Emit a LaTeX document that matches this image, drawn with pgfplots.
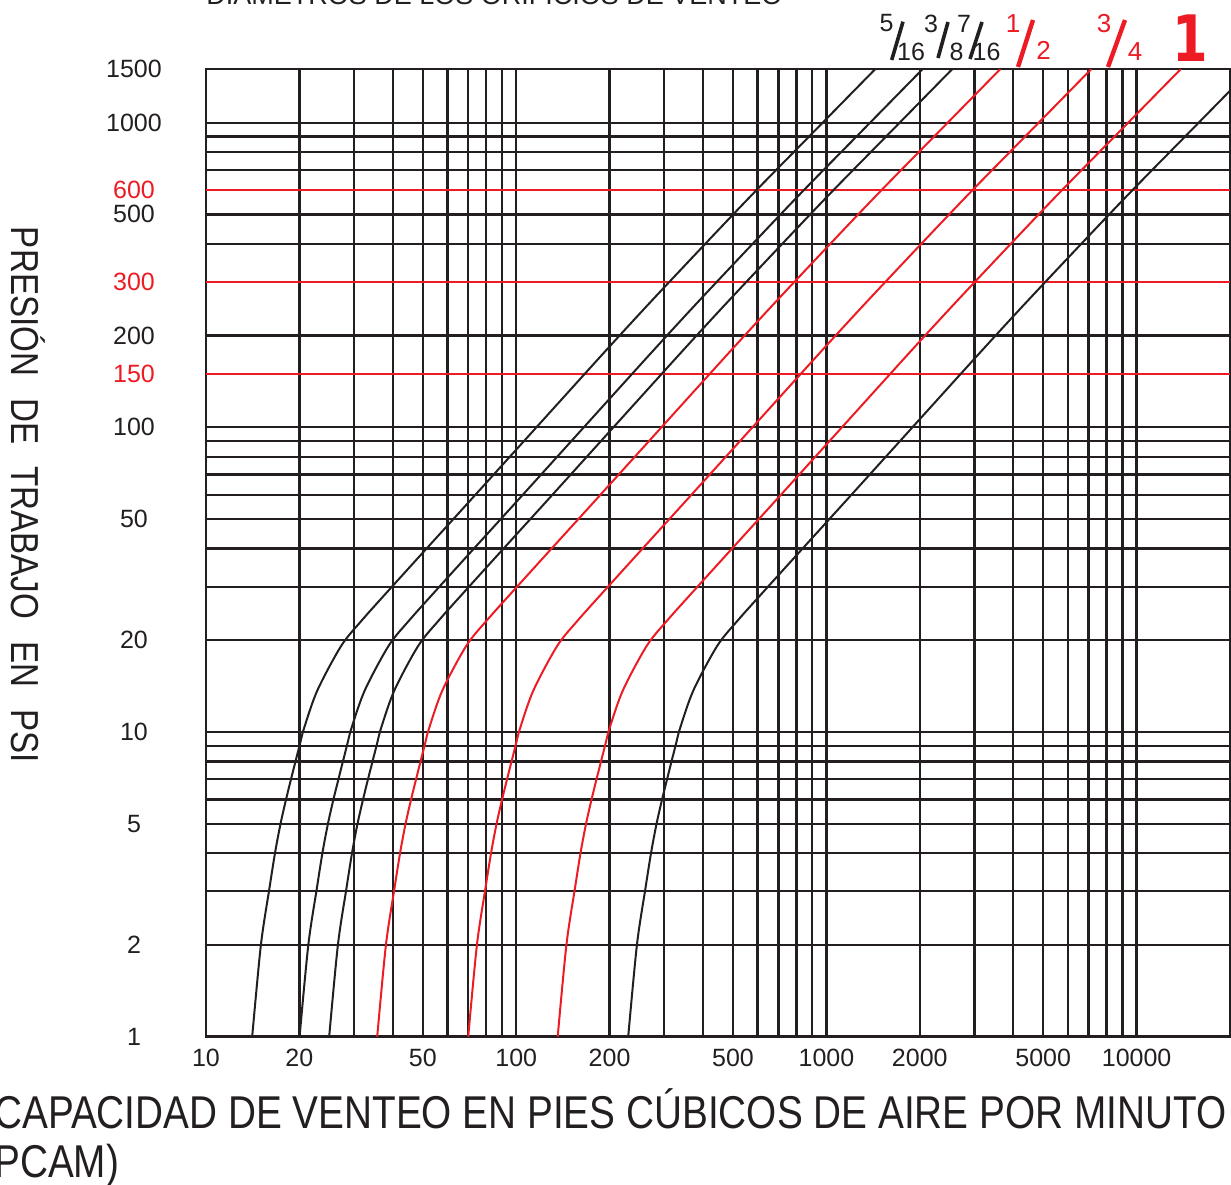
\documentclass[border=0pt]{standalone}
\usepackage{pgfplots}
\pgfplotsset{compat=1.18}
\usepackage{graphicx}
\usepackage{fontspec}
\setmainfont{Liberation Sans}
\newfontfamily\djv{DejaVu Sans}
\definecolor{cred}{RGB}{237,28,36}
\definecolor{cblk}{RGB}{35,31,32}
\begin{document}
\begin{tikzpicture}
\useasboundingbox (-103pt,-73.65pt) rectangle (512.5pt,518.35pt);
\begin{axis}[
  at={(0pt,0pt)}, anchor=south west,
  scale only axis, width=512pt, height=483.85pt,
  xmode=log, ymode=log,
  xmin=10, xmax=20000, ymin=1, ymax=1500,
  xtick={10,20,50,100,200,500,1000,2000,5000,10000},
  xticklabels={10,20,50,100,200,500,1000,2000,5000,10000},
  minor xtick={30,40,60,70,80,90,300,400,600,700,800,900,3000,4000,6000,7000,8000,9000},
  ytick={1,2,5,10,20,50,100,200,500,1000,1500},
  yticklabels={1,2,5,10,20,50,100,200,500,1000,1500},
  minor ytick={3,4,6,7,8,9,30,40,60,70,80,90,400,700,800,900},
  extra y ticks={150,300,600},
  extra y tick labels={\textcolor{cred}{150},\textcolor{cred}{300},\textcolor{cred}{600}},
  extra y tick style={grid=major, major grid style={cred, line width=1.15pt}},
  grid=both,
  major grid style={cblk, line width=1.15pt},
  minor grid style={cblk, line width=1.15pt},
  major tick length=0pt, minor tick length=0pt,
  axis line style={cblk, line width=1.4pt},
  tick label style={font=\fontsize{12.5}{14}\selectfont, text=cblk},
  /pgf/number format/assume math mode=true,
  xticklabel style={yshift=-2.5pt},
  yticklabel style={anchor=center, xshift=-36pt},
  clip=true,
]
% 5/16
\addplot[cblk, line width=1pt, smooth] coordinates {(14.09,1) (15.03,2) (16.00,3.053) (16.72,4.048) (17.41,5.028) (18.13,6.028) (18.85,7.080) (20.02,9.018) (20.73,10.33) (22.88,13.73) (27.30,19.20) (31.87,23.32) (38.90,29.25) (49.88,38.69) (71.29,57.72) (115.4,99.26) (200.6,184.9) (294.5,282.3) (554.1,557.2) (922.2,946.1) (1437.8,1500)};
% 3/8
\addplot[cblk, line width=1pt, smooth] coordinates {(20.03,1) (21.37,2) (22.75,3.053) (23.77,4.048) (24.75,5.028) (25.77,6.028) (26.80,7.080) (28.46,9.018) (29.47,10.33) (32.53,13.73) (38.81,19.20) (45.31,23.32) (55.30,29.25) (70.91,38.69) (101.35,57.72) (164.05,99.26) (285.17,184.9) (418.66,282.3) (787.71,557.2) (1311.0,946.1) (2044.0,1500)};
% 7/16
\addplot[cblk, line width=1pt, smooth] coordinates {(24.95,1) (26.62,2) (28.34,3.053) (29.61,4.048) (30.83,5.028) (32.11,6.028) (33.38,7.080) (35.46,9.018) (36.71,10.33) (40.52,13.73) (48.35,19.20) (56.44,23.32) (68.89,29.25) (88.34,38.69) (126.26,57.72) (204.37,99.26) (355.26,184.9) (521.56,282.3) (981.31,557.2) (1633.2,946.1) (2546.3,1500)};
% 1/2
\addplot[cred, line width=1pt, smooth] coordinates {(35.64,1) (38.02,2) (40.48,3.053) (42.30,4.048) (44.04,5.028) (45.86,6.028) (47.69,7.080) (50.64,9.018) (52.44,10.33) (57.88,13.73) (69.06,19.20) (80.62,23.32) (98.41,29.25) (126.18,38.69) (180.34,57.72) (291.93,99.26) (507.46,184.9) (745.0,282.3) (1401.7,557.2) (2332.9,946.1) (3637.2,1500)};
% 3/4
\addplot[cred, line width=1pt, smooth] coordinates {(70.04,1) (74.71,2) (79.53,3.053) (83.11,4.048) (86.54,5.028) (90.12,6.028) (93.70,7.080) (99.51,9.018) (103.04,10.33) (113.73,13.73) (135.70,19.20) (158.41,23.32) (193.36,29.25) (247.93,38.69) (354.35,57.72) (573.61,99.26) (997.1,184.9) (1463.8,282.3) (2754.2,557.2) (4583.9,946.1) (7146.7,1500)};
% 1
\addplot[cred, line width=1pt, smooth] coordinates {(136.07,1) (145.15,2) (154.52,3.053) (161.47,4.048) (168.13,5.028) (175.09,6.028) (182.04,7.080) (193.34,9.018) (200.20,10.33) (220.96,13.73) (263.64,19.20) (307.78,23.32) (375.67,29.25) (481.71,38.69) (688.47,57.72) (1114.5,99.26) (1937.3,184.9) (2844.1,282.3) (5351.1,557.2) (8906.0,946.1) (13885,1500)};
% unlabeled
\addplot[cblk, line width=1pt, smooth] coordinates {(229.64,1) (244.96,2) (260.77,3.053) (272.50,4.048) (283.75,5.028) (295.48,6.028) (307.22,7.080) (326.29,9.018) (337.86,10.33) (372.90,13.73) (444.94,19.20) (519.42,23.32) (633.99,29.25) (812.94,38.69) (1161.9,57.72) (1880.8,99.26) (3269.4,184.9) (4799.8,282.3) (9030.7,557.2) (15030,946.1) (23433,1500)};
\end{axis}
\begin{scope}[shift={(-103pt,518.35pt)}, x=0.5pt, y=-0.5pt]
\node[anchor=base west, inner sep=0pt, text=cblk, font=\fontsize{13.5}{16}\selectfont] at (206,5) {DIÁMETROS DE LOS ORIFICIOS DE VENTEO};
\node[rotate=-90, inner sep=0pt, text=cblk, font=\fontsize{19.5}{22}\selectfont] at (28,495) {\scalebox{0.85}[1]{PRESIÓN\hspace{13pt}DE\hspace{13pt}TRABAJO\hspace{13pt}EN\hspace{13pt}PSI}};
\node[anchor=base west, inner sep=0pt, text=cblk, font=\fontsize{23}{28}\selectfont] at (-6,1128) {\scalebox{0.842}[1]{CAPACIDAD DE VENTEO EN PIES CÚBICOS DE AIRE POR MINUTO}};
\node[anchor=base west, inner sep=0pt, text=cblk, font=\fontsize{23}{28}\selectfont] at (-19,1177) {\scalebox{0.842}[1]{(PCAM)}};
% fractions
\node[inner sep=0pt, text=cblk, font=\fontsize{12.5}{14}\selectfont] at (886.5,23.5) {5};
\draw[cblk, line width=1.8pt] (891.7,60) -- (903,21.7);
\node[inner sep=0pt, text=cblk, font=\fontsize{12.5}{14}\selectfont] at (911,51.5) {16};
\node[inner sep=0pt, text=cblk, font=\fontsize{12.5}{14}\selectfont] at (931,23.5) {3};
\draw[cblk, line width=1.8pt] (938,58) -- (948,22);
\node[inner sep=0pt, text=cblk, font=\fontsize{12.5}{14}\selectfont] at (956.5,51.5) {8};
\node[inner sep=0pt, text=cblk, font=\fontsize{12.5}{14}\selectfont] at (964,23.5) {7};
\draw[cblk, line width=1.8pt] (970,59) -- (982,22);
\node[inner sep=0pt, text=cblk, font=\fontsize{12.5}{14}\selectfont] at (986.5,51.5) {16};
\node[inner sep=0pt, text=cred, font=\fontsize{13}{15}\selectfont] at (1013,24) {1};
\draw[cred, line width=2.2pt] (1018,67) -- (1033,20);
\node[inner sep=0pt, text=cred, font=\fontsize{13}{15}\selectfont] at (1043.5,50) {2};
\node[inner sep=0pt, text=cred, font=\fontsize{13}{15}\selectfont] at (1104,24) {3};
\draw[cred, line width=2.2pt] (1108,67) -- (1125,20);
\node[inner sep=0pt, text=cred, font=\fontsize{13}{15}\selectfont] at (1135,51.5) {4};
\node[inner sep=0pt, text=cred, font=\djv\bfseries\fontsize{32}{36}\selectfont] at (1190,38.5) {\scalebox{0.8}[1]{1}};
\end{scope}
\end{tikzpicture}
\end{document}
